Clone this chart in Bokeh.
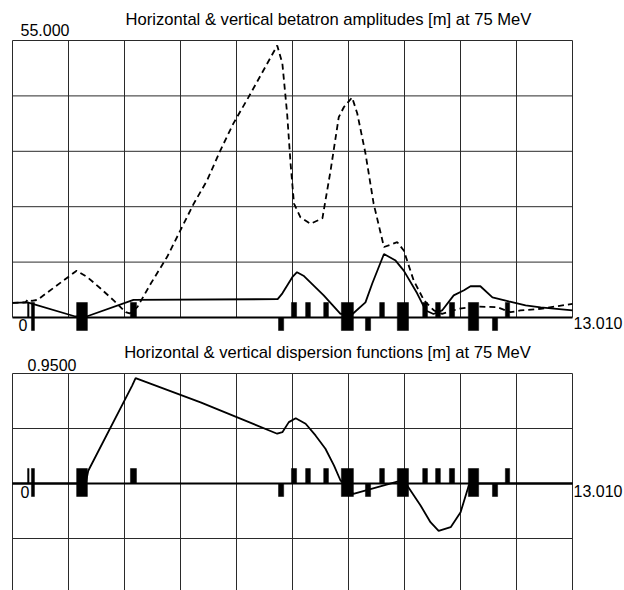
from bokeh.plotting import figure
from bokeh.models import Range1d, Label
from bokeh.layouts import column
from bokeh.embed import file_html
from bokeh.resources import INLINE

# ---------------- data ----------------
L = 13.010
n_div = 10
top_max = 55.0
bot_max = 0.95
top_title = "Horizontal & vertical betatron amplitudes [m] at 75 MeV"
bot_title = "Horizontal & vertical dispersion functions [m] at 75 MeV"
top_max_label = "55.000"
bot_max_label = "0.9500"
zero_label = "0"
end_label = "13.010"

# lattice elements (m)
elem_start = [0.350, 0.44, 1.49, 2.74, 6.18, 6.48, 6.81, 7.23, 7.64, 8.20, 8.53, 8.94, 9.53, 9.83, 10.15, 10.59, 11.15, 11.45]
elem_end   = [0.385, 0.51, 1.74, 2.88, 6.30, 6.60, 6.92, 7.34, 7.92, 8.32, 8.64, 9.20, 9.64, 9.94, 10.27, 10.83, 11.27, 11.55]
elem_kind  = ["up", "both", "both", "up", "down", "up", "up", "up", "both", "down", "up", "both", "up", "up", "up", "both", "down", "up"]

# horizontal beta (solid)
s_bx = [0, 0.35, 1.46, 1.72, 2.81, 6.16, 6.27, 6.50, 6.61, 6.76, 7.23, 7.62, 7.90, 8.20, 8.36, 8.63, 8.90,
        9.09, 9.40, 9.60, 9.78, 9.98, 10.25, 10.49, 10.64, 10.87, 11.15, 11.53, 11.92, 12.27, 13.01]
beta_x = [2.9, 3.0, 0.2, 0.2, 3.5, 3.65, 4.8, 8.0, 9.0, 8.3, 4.4, 0.7, 0.7, 3.0, 6.8, 12.6, 11.3,
          9.3, 4.8, 1.4, 0.7, 1.4, 4.4, 5.4, 6.2, 6.2, 4.0, 3.2, 2.4, 2.0, 1.4]

# vertical beta (dashed)
s_by = [0, 0.30, 0.36, 0.45, 0.58, 1.49, 1.74, 2.04, 2.35, 2.63, 2.72, 2.90, 3.21, 3.59, 3.90, 4.21, 4.52,
        4.83, 5.13, 5.48, 6.15, 6.27, 6.38, 6.46, 6.54, 6.69, 6.92, 7.20, 7.39, 7.58, 7.70, 7.89, 8.01,
        8.20, 8.39, 8.63, 8.94, 9.09, 9.32, 9.56, 9.79, 9.98, 10.37, 10.80, 11.26, 11.57, 11.80, 12.27, 13.01]
beta_y = [2.9, 3.0, 3.6, 3.3, 3.5, 9.3, 8.0, 5.8, 3.4, 1.05, 0.8, 2.05, 6.7, 12.0, 17.3, 22.6, 27.2,
          33.2, 38.5, 43.7, 54.0, 50.4, 40.5, 30.6, 22.6, 19.9, 18.6, 19.7, 29.2, 39.8, 41.8, 43.7, 40.5,
          32.6, 22.6, 14.0, 14.95, 13.3, 7.35, 3.4, 1.4, 0.73, 1.73, 2.18, 2.05, 1.05, 1.4, 1.73, 2.7]

# horizontal dispersion (solid)
s_d = [0, 1.70, 1.76, 2.78, 2.86, 4.37, 6.15, 6.27, 6.42, 6.58, 6.81, 7.04, 7.27, 7.47, 7.62, 7.71,
       7.92, 8.94, 9.17, 9.48, 9.71, 9.90, 10.18, 10.41, 10.60, 10.83, 13.01]
disp = [0, 0, 0.11, 0.846, 0.91, 0.70, 0.43, 0.443, 0.53, 0.564, 0.516, 0.415, 0.30, 0.155, 0.026, 0,
        -0.089, 0.017, -0.017, -0.19, -0.334, -0.41, -0.377, -0.248, -0.017, 0, 0]

# ---------------- styling / layout ----------------
FONT = "Liberation Sans"
W = 624
LEFT_PX, RIGHT_PX = 12, 572          # plot box edges on the canvas
PX_PER_M = (RIGHT_PX - LEFT_PX) / L
X_RANGE = (-LEFT_PX / PX_PER_M, L + (W - RIGHT_PX) / PX_PER_M)
GRID_C = "#2a2a2a"
LW = 1.8

x_ticks = [L * k / n_div for k in range(n_div + 1)]


def make_fig(height, y0, y1):
    p = figure(width=W, height=height, x_range=Range1d(*X_RANGE), y_range=Range1d(y0, y1),
               x_axis_location=None, y_axis_location=None, toolbar_location=None,
               output_backend="svg", min_border=0, min_border_left=0, min_border_right=0,
               min_border_top=0, min_border_bottom=0, outline_line_color=None, title=None)
    p.xgrid.visible = False
    p.ygrid.visible = False
    return p


def elem_quads(p, up_h, down_h):
    tops, bots = [], []
    for k in elem_kind:
        tops.append(up_h if k in ("up", "both") else 0)
        bots.append(-down_h if k in ("down", "both") else 0)
    p.quad(left=elem_start, right=elem_end, top=tops, bottom=bots,
           fill_color="black", line_color="black", line_width=0.5)


def lab(p, text, x, y, xo, yo, align="left", size="16px"):
    p.add_layout(Label(x=x, y=y, x_offset=xo, y_offset=yo, text=text,
                       text_font=FONT, text_font_size=size, text_color="black",
                       text_align=align, text_baseline="alphabetic"))


# ---- top panel: canvas y 0..337, box top at 40, zero at 317 ----
H1 = 337
t_ppu = 277 / top_max
p1 = make_fig(H1, -(H1 - 317) / t_ppu, top_max + 40 / t_ppu)

h_top = [top_max * k / 5 for k in range(1, 6)]
p1.segment(x0=x_ticks, x1=x_ticks, y0=[0] * len(x_ticks), y1=[top_max] * len(x_ticks),
           line_color=GRID_C, line_width=1)
p1.segment(x0=[0] * len(h_top), x1=[L] * len(h_top), y0=h_top, y1=h_top,
           line_color=GRID_C, line_width=1)
p1.segment(x0=[0], x1=[L], y0=[0], y1=[0], line_color="black", line_width=2.2)
elem_quads(p1, 15 / t_ppu, 13 / t_ppu)
p1.line(s_by, beta_y, line_color="black", line_width=LW, line_dash="6 4")
p1.line(s_bx, beta_x, line_color="black", line_width=LW)

lab(p1, top_title, 0, top_max, 316, 21, "center", "16.6px")
lab(p1, top_max_label, 0, top_max, 8, 11)
lab(p1, zero_label, 0, 0, 6, -7)
lab(p1, end_label, L, 0, 1, -5, "left", "16px")

# ---- bottom panel: canvas y 337..590, box top at 373, zero at 483 ----
H2 = 590 - H1
b_ppu = 110 / bot_max
p2 = make_fig(H2, -(590 - 483) / b_ppu, bot_max + (373 - H1) / b_ppu)

h_bot = [bot_max / 2, bot_max, -bot_max / 2]
p2.segment(x0=x_ticks, x1=x_ticks, y0=[-2 * bot_max] * len(x_ticks), y1=[bot_max] * len(x_ticks),
           line_color=GRID_C, line_width=1)
p2.segment(x0=[0] * len(h_bot), x1=[L] * len(h_bot), y0=h_bot, y1=h_bot,
           line_color=GRID_C, line_width=1)
p2.segment(x0=[0], x1=[L], y0=[0], y1=[0], line_color="black", line_width=2.2)
elem_quads(p2, 15 / b_ppu, 13 / b_ppu)
p2.line(s_d, disp, line_color="black", line_width=LW)

lab(p2, bot_title, 0, bot_max, 315, 21, "center", "16.6px")
lab(p2, bot_max_label, 0, bot_max, 15, 9)
lab(p2, zero_label, 0, 0, 8, -8)
lab(p2, end_label, L, 0, 1, -7, "left", "16px")

layout = column(p1, p2, spacing=0)
open("out.html", "w").write(file_html(layout, INLINE))
